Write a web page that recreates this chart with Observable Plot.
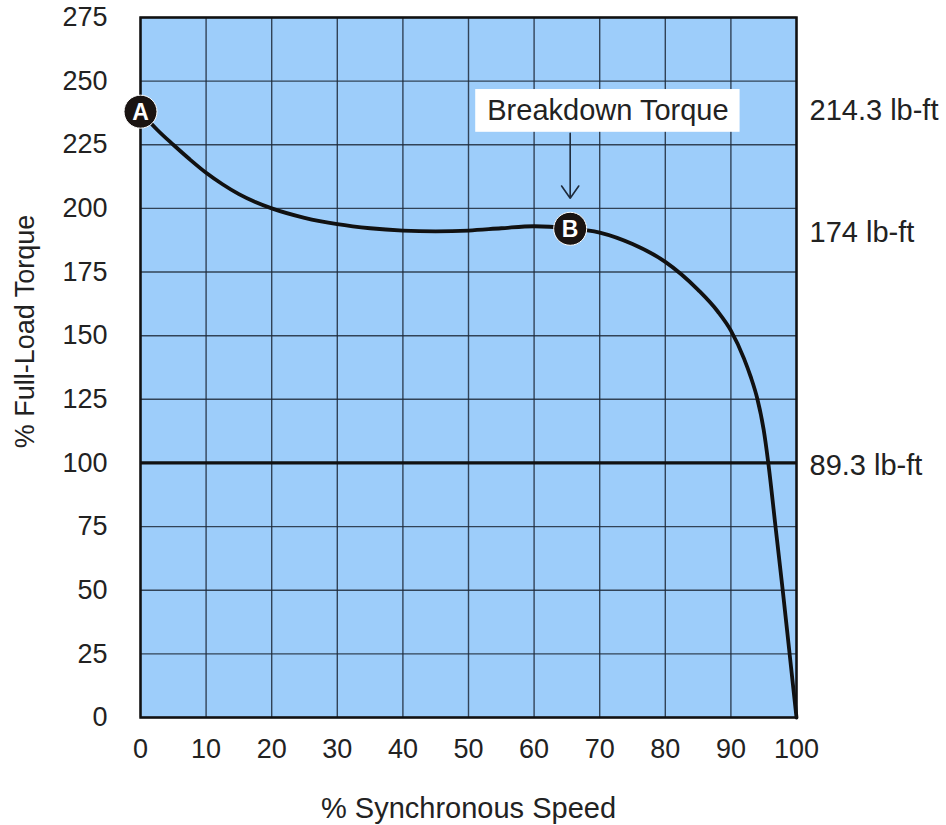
<!DOCTYPE html>
<html><head><meta charset="utf-8">
<script src="https://cdn.jsdelivr.net/npm/d3@7"></script>
<script src="https://cdn.jsdelivr.net/npm/@observablehq/plot@0.6"></script>
<style>body{margin:0;background:#fff}</style>
</head><body><div id="chart"></div>
<script>
// Speed-torque curve
const speed  = [0,2.5,5,7.5,10,12.5,15,17.5,20,25,30,35,40,45,50,55,60,65,70,75,80,85,88,90,92,93,94,95,95.7,96.8,97.9,98.95,100];
const torque = [238,231,225,219.3,214,209.5,205.6,202.5,200,196.3,193.8,192.2,191.3,191,191.3,192.2,193,192.3,190.5,186,179,168,159.5,152,141,134,125.5,113,100,75,50,25,0];

const xTicks = [0,10,20,30,40,50,60,70,80,90,100];
const yTicks = [0,25,50,75,100,125,150,175,200,225,250,275];

// labelled points
const pointNames = ["A","B"];
const pointX = [0,65.5];
const pointY = [238,192];

// right-side torque labels
const rightLabels = ["214.3 lb-ft","174 lb-ft","89.3 lb-ft"];
const rightY = [238.5,190.6,99];

// annotation
const noteText = "Breakdown Torque";
const noteBox = {x1: 51.1, x2: 91.4, y1: 229.9, y2: 246.7};
const noteArrow = {x: 65.5, y1: 229.5, y2: 204};

const curve = speed.map((s,i)=>({speed:s, torque:torque[i]}));
const pts = pointNames.map((n,i)=>({name:n, x:pointX[i], y:pointY[i]}));
const rl = rightLabels.map((t,i)=>({t, y:rightY[i]}));

const textColor = "#222";
const plot = Plot.plot({
  width: 946, height: 825,
  marginLeft: 140, marginRight: 150, marginTop: 17, marginBottom: 108,
  style: {fontFamily: "'Liberation Sans', Arial, sans-serif", fontSize: "27px", color: textColor, background: "#fff"},
  x: {domain: [0,100]},
  y: {domain: [0,275]},
  marks: [
    Plot.frame({fill: "#9dcdfa", stroke: null}),
    Plot.gridX(xTicks, {stroke: "#1e2a3a", strokeOpacity: 0.85, strokeWidth: 1.4}),
    Plot.gridY(yTicks, {stroke: "#1e2a3a", strokeOpacity: 0.85, strokeWidth: 1.4}),
    Plot.axisX(xTicks, {tickSize: 0, tickPadding: 21, label: null, fontSize: 27, fill: textColor}),
    Plot.axisY(yTicks, {tickSize: 0, tickPadding: 33, label: null, fontSize: 27, fill: textColor}),
    Plot.ruleY([100], {stroke: "#111", strokeWidth: 3.2}),
    Plot.line(curve, {x: "speed", y: "torque", stroke: "#111", strokeWidth: 3.8, curve: "monotone-x"}),
    Plot.frame({stroke: "#111", strokeWidth: 2.5}),
    Plot.rect([noteBox], {x1: "x1", x2: "x2", y1: "y1", y2: "y2", fill: "white"}),
    Plot.text([noteText], {x: (noteBox.x1+noteBox.x2)/2, y: (noteBox.y1+noteBox.y2)/2, text: d=>d, fontSize: 29, fill: textColor}),
    Plot.arrow([noteArrow], {x1: "x", x2: "x", y1: "y1", y2: "y2", stroke: "#1e2a3a", strokeWidth: 1.6, headLength: 14, headAngle: 70}),
    Plot.dot(pts, {x: "x", y: "y", r: 16.5, fill: "#1a1412", stroke: "#fff", strokeWidth: 1}),
    Plot.text(pts, {x: "x", y: "y", text: "name", fill: "white", fontWeight: "bold", fontSize: 23, dy: 1}),
    Plot.text(rl, {x: () => 100, y: "y", text: "t", textAnchor: "start", dx: 13, fontSize: 29, fill: textColor}),
    Plot.text(["% Synchronous Speed"], {frameAnchor: "bottom", text: d=>d, dy: 91, lineAnchor: "middle", textAnchor: "middle", fontSize: 29, fill: textColor}),
    Plot.text(["% Full-Load Torque"], {frameAnchor: "left", text: d=>d, rotate: -90, dx: -115, dy: -36, textAnchor: "middle", lineAnchor: "middle", fontSize: 27, fill: textColor})
  ]
});
document.getElementById("chart").appendChild(plot);
</script>
</body></html>
